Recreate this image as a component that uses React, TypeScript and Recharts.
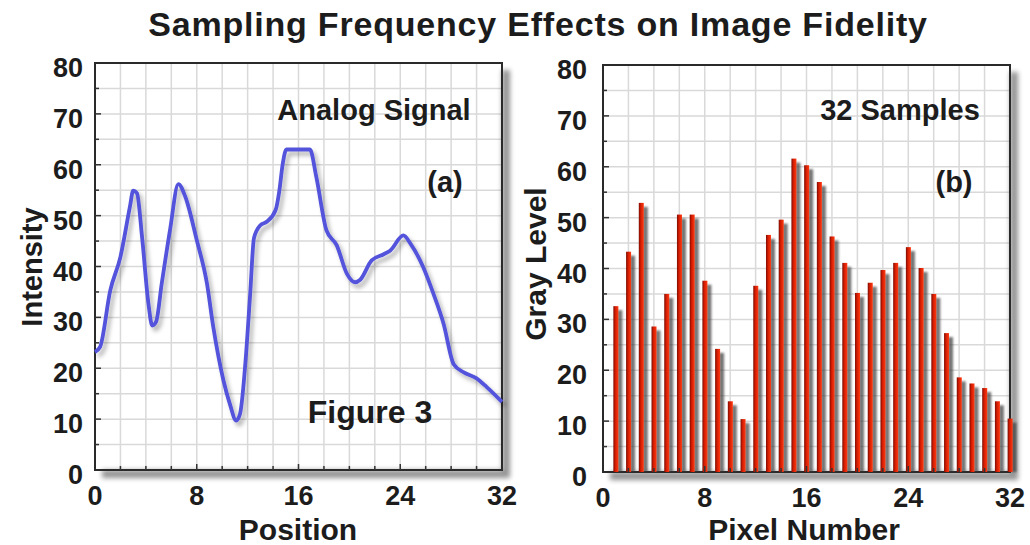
import React from "react";
import {
  Bar,
  BarChart,
  CartesianGrid,
  Line,
  LineChart,
  ReferenceArea,
  XAxis,
  YAxis,
} from "recharts";

// analog trace (a)
const positions = [
  0, 0.4, 1.2, 2.0, 2.75, 3.0, 3.3, 3.7, 4.2, 4.5, 4.8, 5.25, 5.9, 6.55, 7.1, 8.0, 8.8, 9.3,
  10.1, 10.6, 11.1, 11.4, 11.9, 12.2, 12.5, 13.0, 13.5, 14.2, 14.5, 14.75, 15.05, 16.9, 17.4,
  18.2, 19.0, 19.8, 20.45, 20.85, 21.75, 22.7, 23.2, 24.25, 24.8, 25.8, 26.6, 27.4, 28.2, 29.0,
  30.0, 30.8, 32.0,
];
const intensity = [
  23.2, 24.2, 35.3, 41.9, 51.8, 54.9, 54.4, 45.8, 32.7, 28.4, 29.1, 36.7, 47.2, 56.2, 53.7,
  45.2, 36.7, 28.1, 17.6, 13.0, 9.7, 11.0, 23.5, 34.6, 45.6, 48.1, 48.8, 51.1, 55.0, 60.0, 63.0,
  63.0, 57.6, 47.1, 44.2, 38.6, 36.9, 37.4, 41.2, 42.4, 43.1, 46.1, 44.5, 39.9, 34.7, 28.8, 20.8,
  19.2, 18.0, 16.3, 13.4,
];

// sampled version (b)
const pixels = [
  1, 2, 3, 4, 5, 6, 7, 8, 9, 10, 11, 12, 13, 14, 15, 16, 17, 18, 19, 20, 21, 22, 23, 24, 25, 26,
  27, 28, 29, 30, 31, 32,
];
const grayLevels = [
  32.6, 43.3, 52.9, 28.6, 35.0, 50.6, 50.6, 37.6, 24.2, 13.9, 10.4, 36.6, 46.6, 49.6, 61.6, 60.3,
  57.0, 46.3, 41.1, 35.2, 37.2, 39.7, 41.1, 44.2, 40.1, 35.0, 27.3, 18.6, 17.4, 16.5, 13.9, 10.5,
];

const xTicks = [0, 2, 4, 6, 8, 10, 12, 14, 16, 18, 20, 22, 24, 26, 28, 30, 32];
const yTicks = [0, 5, 10, 15, 20, 25, 30, 35, 40, 45, 50, 55, 60, 65, 70, 75, 80];

const analogData = positions.map((x, i) => ({ x, y: intensity[i] }));
const sampleData = pixels.map((p, i) => ({ p, v: grayLevels[i] }));

const FONT = "'Liberation Sans', Arial, Helvetica, sans-serif";
const INK = "#1c1c1c";

const XTick = (props: any) => {
  const { x, y, payload } = props;
  const v = payload.value;
  const axisY = y - 8;
  const major = v % 8 === 0;
  return (
    <g>
      {v > 0 && v < 32 && (
        <line x1={x} x2={x} y1={axisY} y2={axisY - (major ? 6 : 4)} stroke="#333" strokeWidth={1.5} />
      )}
      {major && (
        <text x={x} y={axisY + 35} textAnchor="middle" fontFamily={FONT} fontWeight={700} fontSize={27} fill={INK}>
          {v}
        </text>
      )}
    </g>
  );
};

const makeYTick = (gap: number) => (props: any) => {
  const { x, y, payload } = props;
  const v = payload.value;
  const axisX = x + 8;
  const major = v % 10 === 0;
  return (
    <g>
      {v > 0 && v < 80 && (
        <line x1={axisX} x2={axisX + (major ? 6 : 4)} y1={y} y2={y} stroke="#333" strokeWidth={1.5} />
      )}
      {major && (
        <text x={axisX - gap} y={y + 14} textAnchor="end" fontFamily={FONT} fontWeight={700} fontSize={27} fill={INK}>
          {v}
        </text>
      )}
    </g>
  );
};

// frame with a soft drop shadow on the right and bottom
const Frame = (props: any) => {
  const { x, y, width, height } = props;
  return (
    <g>
      <g filter="url(#frameBlur)" opacity={0.7}>
        <rect x={x + width} y={y + 7} width={8} height={height} fill="#666" />
        <rect x={x + 7} y={y + height} width={width + 1} height={8} fill="#666" />
      </g>
      <rect x={x} y={y} width={width} height={height} fill="none" stroke="#2a2a2a" strokeWidth={2} />
    </g>
  );
};

const SampleBar = (props: any) => {
  const { x, y, width, height } = props;
  if (!height || height <= 0) return null;
  return (
    <g>
      <rect x={x + width - 1} y={y + 4} width={5} height={height - 4} fill="#3a3a3a" opacity={0.7} filter="url(#barBlur)" />
      <rect x={x} y={y} width={width} height={height} fill="url(#barGrad)" />
    </g>
  );
};

export default function App() {
  return (
    <div style={{ position: "absolute", left: 0, top: 0, width: 1030, height: 545, background: "#fff" }}>
      <svg width={0} height={0} style={{ position: "absolute" }}>
        <defs>
          <filter id="frameBlur" x="-20%" y="-20%" width="140%" height="140%">
            <feGaussianBlur stdDeviation={2.5} />
          </filter>
          <filter id="barBlur" x="-100%" y="-10%" width="300%" height="120%">
            <feGaussianBlur stdDeviation={1.2} />
          </filter>
          <filter id="lineShadow" x="-10%" y="-10%" width="120%" height="130%">
            <feDropShadow dx={3} dy={4} stdDeviation={2} floodColor="#000" floodOpacity={0.3} />
          </filter>
          <linearGradient id="barGrad" x1="0" y1="0" x2="1" y2="0">
            <stop offset="0%" stopColor="#7a0c02" />
            <stop offset="40%" stopColor="#d41c02" />
            <stop offset="100%" stopColor="#ff3b12" />
          </linearGradient>
        </defs>
      </svg>

      <div style={{ position: "absolute", left: 0, top: 0 }}>
        <LineChart width={520} height={545} data={analogData} margin={{ top: 63, right: 18, bottom: 35, left: 35 }}>
          <CartesianGrid stroke="#d9d9d9" strokeWidth={1.5} />
          <XAxis
            dataKey="x"
            type="number"
            domain={[0, 32]}
            ticks={xTicks}
            interval={0}
            height={40}
            axisLine={false}
            tickLine={false}
            tick={XTick}
          />
          <YAxis
            type="number"
            domain={[0, 80]}
            ticks={yTicks}
            interval={0}
            width={60}
            axisLine={false}
            tickLine={false}
            tick={makeYTick(12)}
          />
          <ReferenceArea x1={0} x2={32} y1={0} y2={80} shape={Frame} />
          <Line
            dataKey="y"
            type="monotone"
            stroke="#5252dc"
            strokeWidth={3.8}
            dot={false}
            filter="url(#lineShadow)"
            isAnimationActive={false}
          />
        </LineChart>
      </div>

      <div style={{ position: "absolute", left: 510, top: 0 }}>
        <BarChart width={520} height={545} data={sampleData} margin={{ top: 65, right: 20, bottom: 33, left: 33 }}>
          <CartesianGrid stroke="#d9d9d9" strokeWidth={1.5} />
          <XAxis
            dataKey="p"
            type="number"
            domain={[0, 32]}
            ticks={xTicks}
            interval={0}
            height={40}
            axisLine={false}
            tickLine={false}
            tick={XTick}
          />
          <YAxis
            type="number"
            domain={[0, 80]}
            ticks={yTicks}
            interval={0}
            width={60}
            axisLine={false}
            tickLine={false}
            tick={makeYTick(16)}
          />
          <ReferenceArea x1={0} x2={32} y1={0} y2={80} shape={Frame} />
          <Bar dataKey="v" barSize={5} shape={SampleBar} isAnimationActive={false} />
        </BarChart>
      </div>

      <svg width={1030} height={545} style={{ position: "absolute", left: 0, top: 0, pointerEvents: "none" }}>
        <g fontFamily={FONT} fontWeight={700} fill={INK} textAnchor="middle">
          <text x={538} y={36} fontSize={34} letterSpacing={0.8}>
            Sampling Frequency Effects on Image Fidelity
          </text>
          <text x={374} y={120} fontSize={29}>Analog Signal</text>
          <text x={445} y={192} fontSize={29}>(a)</text>
          <text x={370} y={423} fontSize={32}>Figure 3</text>
          <text x={900} y={120} fontSize={29}>32 Samples</text>
          <text x={954} y={192} fontSize={29}>(b)</text>
          <text x={298} y={540} fontSize={30}>Position</text>
          <text x={804} y={540} fontSize={30}>Pixel Number</text>
          <text transform="translate(42,267) rotate(-90)" fontSize={29}>Intensity</text>
          <text transform="translate(546,264) rotate(-90)" fontSize={30}>Gray Level</text>
        </g>
      </svg>
    </div>
  );
}
